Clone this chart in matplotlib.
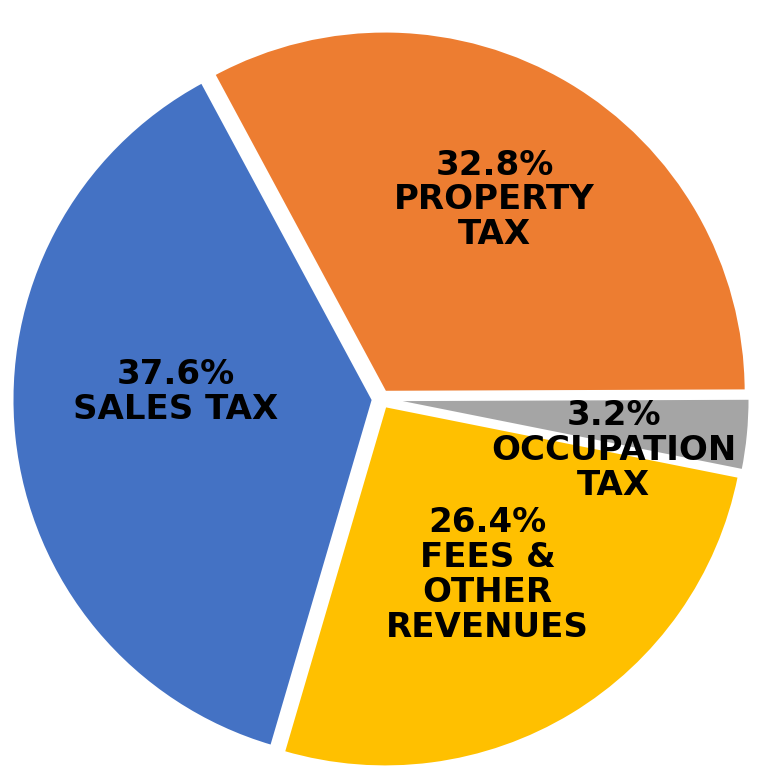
import matplotlib
matplotlib.use("Agg")
import matplotlib.pyplot as plt
import numpy as np

# revenue shares (%), drawn clockwise from the top-left
categories = ["PROPERTY\nTAX", "OCCUPATION\nTAX", "FEES &\nOTHER\nREVENUES", "SALES TAX"]
shares = [32.8, 3.2, 26.4, 37.6]
colors = ["#ED7D31", "#A5A5A5", "#FFC000", "#4472C4"]

# label placement: radius (fraction of pie) and angle shift from wedge middle
label_r = [0.635, 0.66, 0.57, 0.57]
label_shift = [1.0, -7.0, 0.0, -8.0]

fig = plt.figure(figsize=(7.6, 7.67), dpi=100)
ax = fig.add_axes([0, 0, 1, 1])

wedges, _ = ax.pie(shares, colors=colors, startangle=118.3, counterclock=False,
                   explode=[0.022] * 4, radius=1,
                   wedgeprops=dict(edgecolor="white", linewidth=2))

for w, name, val, r, sh in zip(wedges, categories, shares, label_r, label_shift):
    mid = np.deg2rad((w.theta1 + w.theta2) / 2 + sh)
    ax.text(r * np.cos(mid), r * np.sin(mid), f"{val}%\n{name}",
            ha="center", va="center", fontsize=24.5, fontweight="bold",
            family="DejaVu Sans", linespacing=1.07, color="black")

ax.set_xlim(-381 / 361, 379 / 361)
ax.set_ylim(-368 / 361, 399 / 361)
ax.set_aspect("equal")
ax.axis("off")

fig.savefig("out.png", dpi=100)
